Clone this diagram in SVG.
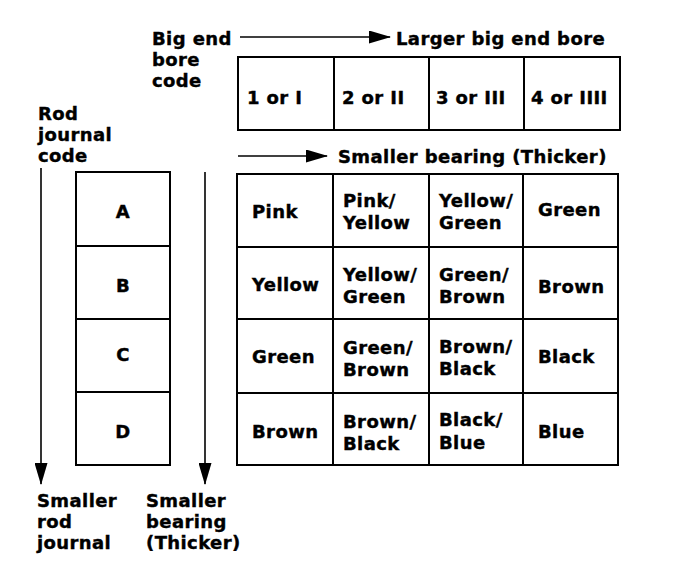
<svg xmlns="http://www.w3.org/2000/svg" width="688" height="568" viewBox="0 0 688 568">
<style>
text{font-family:"DejaVu Sans","Liberation Sans",sans-serif;font-weight:bold;font-size:18px;letter-spacing:0.4px;fill:#000;stroke:#000;stroke-width:0.4}
.cell{fill:#fff;stroke:#000;stroke-width:2}
.conn{stroke:#000;stroke-width:1.6;fill:none}
.mid{text-anchor:middle}
</style>
<defs>
<marker id="ah" markerUnits="userSpaceOnUse" markerWidth="22" markerHeight="13" refX="21" refY="6.5" orient="auto">
<path d="M0,0 L22,6.5 L0,13 z" fill="#000"/>
</marker>
</defs>
<rect width="688" height="568" fill="#fff"/>

<g id="labels">
<text x="152" y="45">Big end</text>
<text x="152" y="66">bore</text>
<text x="152" y="87">code</text>
<text x="396" y="45">Larger big end bore</text>
<text x="338" y="163">Smaller bearing (Thicker)</text>
<text x="38" y="120">Rod</text>
<text x="38" y="141">journal</text>
<text x="38" y="162">code</text>
<text x="37" y="507">Smaller</text>
<text x="37" y="528">rod</text>
<text x="37" y="549">journal</text>
<text x="146" y="507">Smaller</text>
<text x="146" y="528">bearing</text>
<text x="146" y="549">(Thicker)</text>
</g>

<g id="bore-code">
<rect class="cell" x="238" y="57" width="96" height="73"/>
<rect class="cell" x="334" y="57" width="95" height="73"/>
<rect class="cell" x="429" y="57" width="95" height="73"/>
<rect class="cell" x="524" y="57" width="96" height="73"/>
<text x="247" y="104">1 or I</text>
<text x="342" y="104">2 or II</text>
<text x="436" y="104">3 or III</text>
<text x="531" y="104">4 or IIII</text>
</g>

<g id="journal-code">
<rect class="cell" x="76" y="172" width="94" height="74"/>
<rect class="cell" x="76" y="246" width="94" height="73"/>
<rect class="cell" x="76" y="319" width="94" height="73"/>
<rect class="cell" x="76" y="392" width="94" height="73"/>
<text class="mid" x="123" y="218">A</text>
<text class="mid" x="123" y="292">B</text>
<text class="mid" x="123" y="361">C</text>
<text class="mid" x="123" y="438">D</text>
</g>

<g id="bearing-table">
<rect class="cell" x="237" y="174" width="96" height="73"/>
<rect class="cell" x="333" y="174" width="96" height="73"/>
<rect class="cell" x="429" y="174" width="94" height="73"/>
<rect class="cell" x="523" y="174" width="95" height="73"/>
<rect class="cell" x="237" y="247" width="96" height="72"/>
<rect class="cell" x="333" y="247" width="96" height="72"/>
<rect class="cell" x="429" y="247" width="94" height="72"/>
<rect class="cell" x="523" y="247" width="95" height="72"/>
<rect class="cell" x="237" y="319" width="96" height="74"/>
<rect class="cell" x="333" y="319" width="96" height="74"/>
<rect class="cell" x="429" y="319" width="94" height="74"/>
<rect class="cell" x="523" y="319" width="95" height="74"/>
<rect class="cell" x="237" y="393" width="96" height="72"/>
<rect class="cell" x="333" y="393" width="96" height="72"/>
<rect class="cell" x="429" y="393" width="94" height="72"/>
<rect class="cell" x="523" y="393" width="95" height="72"/>

<text x="252" y="218">Pink</text>
<text x="343" y="207">Pink/</text>
<text x="343" y="229">Yellow</text>
<text x="439" y="207">Yellow/</text>
<text x="439" y="229">Green</text>
<text x="538" y="216">Green</text>

<text x="252" y="291">Yellow</text>
<text x="343" y="281">Yellow/</text>
<text x="343" y="303">Green</text>
<text x="439" y="281">Green/</text>
<text x="439" y="303">Brown</text>
<text x="538" y="293">Brown</text>

<text x="252" y="363">Green</text>
<text x="343" y="354">Green/</text>
<text x="343" y="376">Brown</text>
<text x="439" y="353">Brown/</text>
<text x="439" y="375">Black</text>
<text x="538" y="363">Black</text>

<text x="252" y="438">Brown</text>
<text x="343" y="428">Brown/</text>
<text x="343" y="450">Black</text>
<text x="439" y="426">Black/</text>
<text x="439" y="449">Blue</text>
<text x="538" y="438">Blue</text>
</g>

<g id="connectors">
<line class="conn" x1="240" y1="37" x2="390" y2="37" marker-end="url(#ah)"/>
<line class="conn" x1="238" y1="156" x2="327" y2="156" marker-end="url(#ah)"/>
<line class="conn" x1="41" y1="168" x2="41" y2="484" marker-end="url(#ah)"/>
<line class="conn" x1="205" y1="172" x2="205" y2="484" marker-end="url(#ah)"/>
</g>
</svg>
